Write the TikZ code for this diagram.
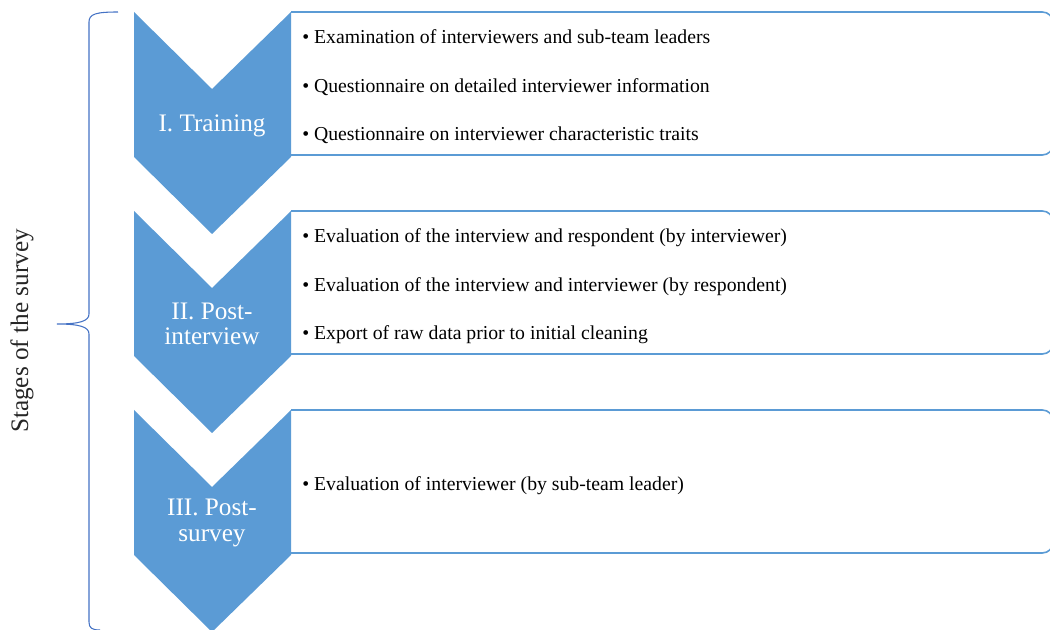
\documentclass[tikz,border=0pt]{standalone}
\usepackage{fontspec}
\setmainfont{Liberation Serif}
\usetikzlibrary{positioning}
\definecolor{stageblue}{RGB}{91,155,213}
\definecolor{braceblue}{RGB}{68,114,196}
\tikzset{
% Chevrons for the stages, boxes for what is collected in each stage
stage arrow/.style={fill=stageblue,draw=none},
item box/.style={draw=stageblue,line width=1.2pt,fill=white,rounded corners=8pt},
stage label/.style={text=white,align=center,font=\fontsize{18.9}{19}\selectfont},
side label/.style={rotate=90,text=black!85,font=\fontsize{18.9}{19}\selectfont},
item/.style={anchor=west,inner sep=0pt,text height=10pt,text depth=3pt,font=\fontsize{14.8}{16}\selectfont}
}

\begin{document}
\begin{tikzpicture}[x=0.75pt,y=-0.75pt]
  \useasboundingbox (0,0) rectangle (1050,630);
  \clip (0,0) rectangle (1050,630);
  % One box and one chevron for each stage
  \foreach \d in {0,199,398}{
    \draw[item box] (291,12+\d) -- (1053,12+\d) -- (1053,155+\d) -- (291,155+\d);
    \fill[stage arrow] (134,12+\d) -- (212,89+\d) -- (291,12+\d) -- (291,157+\d)
      -- (212,234+\d) -- (134,157+\d) -- cycle;
  }
  % Stage names
  \node(s1)[stage label] at (212,126) {I. Training};
  \node(s2)[stage label] at (212,324) {II. Post-\\interview};
  \node(s3)[stage label] at (212,523) {III. Post-\\survey};
  % Items of stage I
  \node(i11)[item] at (302,39) {\textbullet\ Examination of interviewers and sub-team leaders};
  \node(i12)[item,below=23pt of i11.south west,anchor=north west] {\textbullet\ Questionnaire on detailed interviewer information};
  \node(i13)[item,below=23pt of i12.south west,anchor=north west] {\textbullet\ Questionnaire on interviewer characteristic traits};
  % Items of stage II
  \node(i21)[item] at (302,238) {\textbullet\ Evaluation of the interview and respondent (by interviewer)};
  \node(i22)[item,below=23pt of i21.south west,anchor=north west] {\textbullet\ Evaluation of the interview and interviewer (by respondent)};
  \node(i23)[item,below=23pt of i22.south west,anchor=north west] {\textbullet\ Export of raw data prior to initial cleaning};
  % Item of stage III
  \node(i31)[item] at (302,486) {\textbullet\ Evaluation of interviewer (by sub-team leader)};
  % Brace over all stages
  \draw[braceblue,line width=0.8pt] (118,12) .. controls (96,12) and (89,14) .. (89,22)
    -- (89,314) .. controls (89,321) and (80,324) .. (57,324)
    .. controls (80,324) and (89,327) .. (89,334)
    -- (89,622) .. controls (89,628) and (92,630) .. (100,630);
  \node(stages)[side label] at (22,331) {Stages of the survey};
\end{tikzpicture}
\end{document}
